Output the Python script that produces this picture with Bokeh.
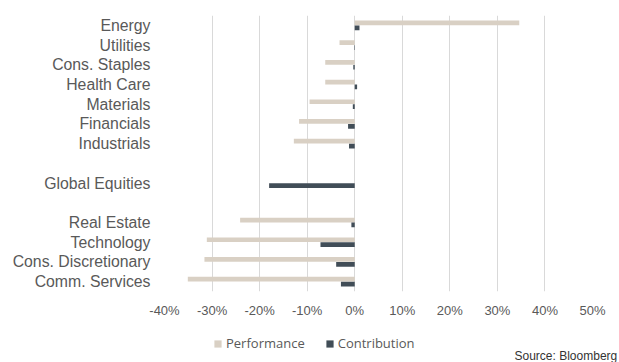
from bokeh.plotting import figure
from bokeh.layouts import column
from bokeh.models import (ColumnDataSource, FactorRange, FixedTicker, NumeralTickFormatter,
                          Legend, LegendItem, Label)
from bokeh.transform import dodge
from bokeh.embed import file_html
from bokeh.resources import INLINE

# Sector returns and their contribution to the global index (%), top to bottom
sectors = ["Energy", "Utilities", "Cons. Staples", "Health Care", "Materials",
           "Financials", "Industrials", "Global Equities", "Real Estate",
           "Technology", "Cons. Discretionary", "Comm. Services"]
performance = [34.6, -3.2, -6.2, -6.2, -9.5, -11.7, -12.8, float("nan"),
               -24.1, -31.1, -31.6, -35.1]
contribution = [1.0, -0.1, -0.3, 0.5, -0.4, -1.4, -1.2, -18.0,
                -0.7, -7.2, -3.9, -2.9]

# empty rows separating the index from the sectors
gap_after = ["Industrials", "Global Equities"]

x_ticks = [-0.4, -0.3, -0.2, -0.1, 0.0, 0.1, 0.2, 0.3, 0.4, 0.5]

series_names = ["Performance", "Contribution"]
source_note = "Source: Bloomberg"

rows = []
blanks = []
for s in sectors:
    rows.append(s)
    if s in gap_after:
        b = " " * (len(blanks) + 1)
        blanks.append(b)
        rows.append(b)
factors = list(reversed(rows))

src = ColumnDataSource(dict(
    y=sectors,
    perf=[v / 100 for v in performance],
    contrib=[v / 100 for v in contribution],
))

PERF_C = "#d9d0c4"
CONTRIB_C = "#414d57"
TEXT_C = "#595959"

# ---- main chart -------------------------------------------------------------
p = figure(width=619, height=325, y_range=FactorRange(*factors, range_padding=0),
           x_range=(-0.4, 0.5), output_backend="svg", toolbar_location=None,
           min_border_left=164, min_border_right=27, min_border_top=15,
           min_border_bottom=34)
p.outline_line_color = None
p.frame_align = False

p.hbar(y=dodge("y", 0.125, range=p.y_range), right="perf", left=0, height=0.24,
       source=src, fill_color=PERF_C, line_color=None)
p.hbar(y=dodge("y", -0.125, range=p.y_range), right="contrib", left=0, height=0.24,
       source=src, fill_color=CONTRIB_C, line_color=None)

p.xaxis.ticker = FixedTicker(ticks=x_ticks)
p.xaxis.formatter = NumeralTickFormatter(format="0%")
p.xaxis.axis_line_color = None
p.xaxis.major_tick_line_color = None
p.xaxis.minor_tick_line_color = None
p.xaxis.major_tick_out = 0
p.xaxis.major_label_standoff = 11
p.xaxis.major_label_text_font = "Liberation Sans"
p.xaxis.major_label_text_font_size = "13px"
p.xaxis.major_label_text_color = TEXT_C

p.yaxis.axis_line_color = None
p.yaxis.major_tick_line_color = None
p.yaxis.major_tick_out = 0
p.yaxis.major_label_standoff = 14
p.yaxis.major_label_text_font = "Liberation Sans"
p.yaxis.major_label_text_font_size = "15.8px"
p.yaxis.major_label_text_color = TEXT_C
p.yaxis.major_label_overrides = {b: "" for b in blanks}

p.ygrid.grid_line_color = None
p.xgrid.grid_line_color = "#d9d9d9"
p.xgrid.grid_line_width = 1

# ---- footer: legend and source note, spanning the full width -----------------
f = figure(width=619, height=37, x_range=(0, 1), y_range=(0, 1),
           output_backend="svg", toolbar_location=None,
           x_axis_type=None, y_axis_type=None, min_border=0)
f.outline_line_color = None
f.grid.visible = False
f.frame_align = False

# zero-size key glyphs that give the legend its swatches
key_src = ColumnDataSource(dict(y=[0], right=[0]))
k_perf = f.hbar(y="y", right="right", height=0, source=key_src,
                fill_color=PERF_C, line_color=None)
k_con = f.hbar(y="y", right="right", height=0, source=key_src,
               fill_color=CONTRIB_C, line_color=None)

legend = Legend(items=[LegendItem(label=series_names[0], renderers=[k_perf]),
                       LegendItem(label=series_names[1], renderers=[k_con])],
                orientation="horizontal", location=(213, 9),
                glyph_width=9, glyph_height=9, label_standoff=4, spacing=20,
                padding=0, margin=0, border_line_color=None, background_fill_alpha=0,
                label_text_font="Open Sans", label_text_font_size="13px",
                label_text_color=TEXT_C, label_height=20)
f.add_layout(legend)

f.add_layout(Label(x=514, y=7, x_units="screen", y_units="screen",
                   text=source_note, text_font="Liberation Sans",
                   text_font_size="12px", text_color="#333333", text_baseline="middle"))

open("out.html", "w").write(file_html(column(p, f, spacing=0), INLINE))
